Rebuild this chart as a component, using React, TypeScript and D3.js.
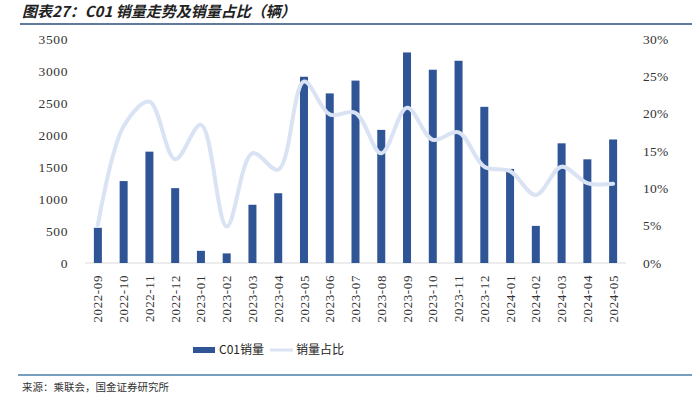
import React, { useEffect, useRef } from 'react';
import * as d3 from 'd3';

const months = [
  '2022-09', '2022-10', '2022-11', '2022-12', '2023-01', '2023-02', '2023-03',
  '2023-04', '2023-05', '2023-06', '2023-07', '2023-08', '2023-09', '2023-10',
  '2023-11', '2023-12', '2024-01', '2024-02', '2024-03', '2024-04', '2024-05',
];
const sales = [
  550, 1280, 1740, 1170, 190, 150, 910, 1090, 2910, 2650, 2850,
  2080, 3290, 3020, 3160, 2440, 1470, 580, 1870, 1620, 1930,
];
const share = [
  5.1, 18.3, 21.6, 13.9, 18.5, 4.9, 14.7, 12.5, 24.3, 19.9, 20.1,
  14.7, 20.8, 16.5, 17.5, 12.9, 12.3, 9.1, 12.9, 10.7, 10.6,
];
const leftTicks = [0, 500, 1000, 1500, 2000, 2500, 3000, 3500];
const rightTicks = [0, 5, 10, 15, 20, 25, 30];

const W = 692;
const H = 399;
const serif = '"Liberation Serif", "DejaVu Serif", serif';
const cjk = '"Noto Sans CJK SC", sans-serif';

export default function App() {
  const ref = useRef<SVGSVGElement>(null);

  useEffect(() => {
    const margin = { top: 39, left: 85, bottom: 136, right: 66 };
    const iw = W - margin.left - margin.right;
    const ih = H - margin.top - margin.bottom;

    const svg = d3.select(ref.current);
    svg.selectAll('*').remove();
    svg.attr('width', W).attr('height', H);

    svg.append('rect').attr('width', W).attr('height', H).attr('fill', '#fff');

    // title
    svg.append('text')
      .attr('x', 22).attr('y', 17)
      .style('font-family', cjk)
      .style('font-size', '15px')
      .style('font-weight', 'bold')
      .style('font-style', 'italic')
      .attr('fill', '#222')
      .text('图表27：C01 销量走势及销量占比（辆）');
    svg.append('line')
      .attr('x1', 20).attr('x2', W).attr('y1', 24).attr('y2', 24)
      .attr('stroke', '#2b4f7e').attr('stroke-width', 1.5);

    const g = svg.append('g').attr('transform', `translate(${margin.left},${margin.top})`);

    const x = d3.scaleBand().domain(months).range([0, iw]);
    const y = d3.scaleLinear().domain([0, 3500]).range([ih, 0]);
    const y2 = d3.scaleLinear().domain([0, 30]).range([ih, 0]);

    // baseline
    g.append('line')
      .attr('x1', 0).attr('x2', iw).attr('y1', ih).attr('y2', ih)
      .attr('stroke', '#d9d9d9').attr('stroke-width', 1);

    // left axis labels
    g.selectAll('.yl').data(leftTicks).enter().append('text')
      .attr('x', -17).attr('y', d => y(d)).attr('dy', '0.35em')
      .attr('text-anchor', 'end')
      .style('font-family', serif).style('font-size', '13.5px')
      .style('letter-spacing', '0.6px')
      .attr('fill', '#333')
      .text(d => d);

    // right axis labels
    g.selectAll('.yr').data(rightTicks).enter().append('text')
      .attr('x', iw + 17).attr('y', d => y2(d)).attr('dy', '0.35em')
      .attr('text-anchor', 'start')
      .style('font-family', serif).style('font-size', '13.5px')
      .style('letter-spacing', '0.3px')
      .attr('fill', '#333')
      .text(d => d + '%');

    // bars
    const bw = 8;
    g.selectAll('.bar').data(months).enter().append('rect')
      .attr('x', d => (x(d) as number) + x.bandwidth() / 2 - bw / 2)
      .attr('y', (d, i) => y(sales[i]))
      .attr('width', bw)
      .attr('height', (d, i) => ih - y(sales[i]))
      .attr('fill', '#2f5597');

    // share line
    const line = d3.line<number>()
      .x((d, i) => (x(months[i]) as number) + x.bandwidth() / 2)
      .y(d => y2(d))
      .curve(d3.curveCatmullRom.alpha(0.5));
    g.append('path')
      .datum(share)
      .attr('d', line)
      .attr('fill', 'none')
      .attr('stroke', '#dae3f3')
      .attr('stroke-width', 4)
      .attr('stroke-linecap', 'round');

    // x labels
    g.selectAll('.xl').data(months).enter().append('text')
      .attr('transform', d => `translate(${(x(d) as number) + x.bandwidth() / 2},${ih + 12}) rotate(-90)`)
      .attr('text-anchor', 'end')
      .attr('dy', '0.35em')
      .style('font-family', serif).style('font-size', '13px')
      .style('letter-spacing', '0.6px')
      .attr('fill', '#333')
      .text(d => d);

    // legend
    const lg = svg.append('g').attr('transform', 'translate(0,350)');
    lg.append('rect').attr('x', 193).attr('y', -3).attr('width', 22).attr('height', 6).attr('fill', '#2f5597');
    lg.append('text').attr('x', 219).attr('y', 0).attr('dy', '0.35em')
      .style('font-family', cjk).style('font-size', '12px').attr('fill', '#222')
      .text('C01销量');
    lg.append('line').attr('x1', 270).attr('x2', 293).attr('y1', 0).attr('y2', 0)
      .attr('stroke', '#dae3f3').attr('stroke-width', 3);
    lg.append('text').attr('x', 296).attr('y', 0).attr('dy', '0.35em')
      .style('font-family', cjk).style('font-size', '12px').attr('fill', '#222')
      .text('销量占比');

    // footer
    svg.append('line')
      .attr('x1', 18).attr('x2', W).attr('y1', 375).attr('y2', 375)
      .attr('stroke', '#4a7ea8').attr('stroke-width', 1.5);
    svg.append('text')
      .attr('x', 22).attr('y', 391)
      .style('font-family', cjk).style('font-size', '10.5px').attr('fill', '#333')
      .text('来源：乘联会，国金证券研究所');
  }, []);

  return (
    <div style={{ position: 'absolute', left: 0, top: 0 }}>
      <svg ref={ref} style={{ display: 'block' }}></svg>
    </div>
  );
}
